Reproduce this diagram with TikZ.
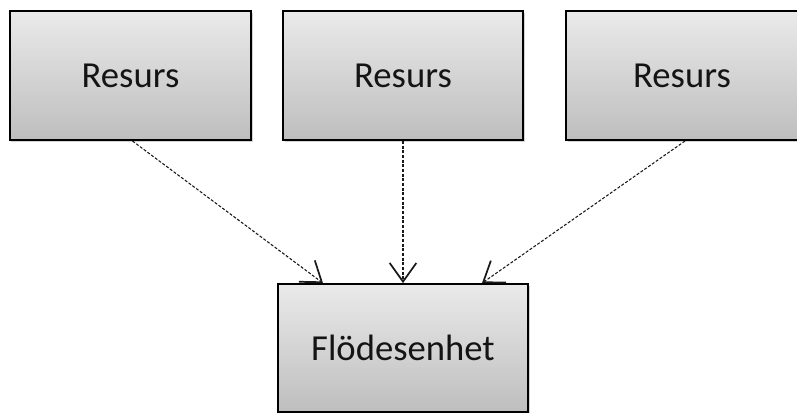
\documentclass[tikz,border=0pt]{standalone}
\usepackage{fontspec}
\setmainfont{Carlito}
\usetikzlibrary{arrows.meta,shadows,calc}

\definecolor{boxtop}{RGB}{234,234,234}
\definecolor{boxbottom}{RGB}{190,190,190}
\definecolor{boxtext}{RGB}{20,20,20}

\tikzset{every picture/.style={line width=0.75pt}}
\tikzset{
  unitbox/.style={draw=black, line width=1.3pt, top color=boxtop, bottom color=boxbottom,
    drop shadow={opacity=0.35, shadow xshift=1.2pt, shadow yshift=-1.5pt},
    text=boxtext, font=\fontsize{27.5}{32}\selectfont, inner sep=0pt},
  flowarrow/.style={draw=black!90, line width=0.8pt, dash pattern=on 2.2pt off 1.3pt,
    -{Straight Barb[length=14pt,width=20pt,line width=1.3pt]}}
}

\begin{document}
\begin{tikzpicture}[x=0.75pt,y=0.75pt,yscale=-1,xscale=1]
\useasboundingbox (0,0) rectangle (797,413);

%Shape: Rectangle
\node [unitbox, minimum width=181pt, minimum height=97pt] (res1) at (130.5,75.5) {Resurs};
%Shape: Rectangle
\node [unitbox, minimum width=180pt, minimum height=97pt] (res2) at (403,75.5) {Resurs};
%Shape: Rectangle
\node [unitbox, minimum width=174pt, minimum height=97pt] (res3) at (682,75.5) {Resurs};
%Shape: Rectangle
\node [unitbox, minimum width=187.5pt, minimum height=96pt] (flode) at (403,348) {Flödesenhet};

%Straight Lines
\draw [flowarrow] ($(res1.south)+(2,0)$) -- ($(flode.north)+(-80,0)$);
%Straight Lines
\draw [flowarrow] (res2.south) -- (flode.north);
%Straight Lines
\draw [flowarrow] ($(res3.south)+(3,0)$) -- ($(flode.north)+(79,0)$);

\end{tikzpicture}
\end{document}
